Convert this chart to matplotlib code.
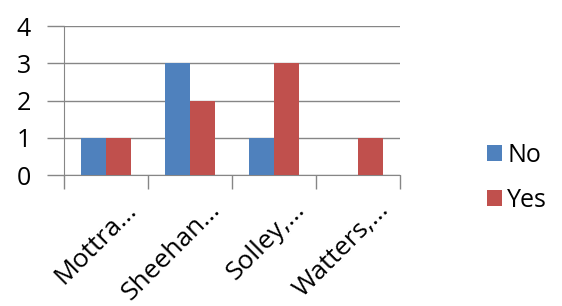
import numpy as np
import matplotlib.pyplot as plt
import matplotlib.transforms as mtransforms

categories = ['Mottra...', 'Sheehan...', 'Solley,...', 'Watters,...']
no_vals = [1, 3, 1, 0]
yes_vals = [1, 2, 3, 1]

plt.rcParams['font.family'] = ['Open Sans', 'DejaVu Sans']

fig = plt.figure(figsize=(5.62, 3.06), dpi=100)
ax = fig.add_axes([0.114, 0.428, 0.598, 0.487])

x = np.arange(len(categories))
w = 0.3
grey = '#868686'

ax.bar(x - w / 2, no_vals, w, color='#4F81BD', label='No', zorder=3)
ax.bar(x + w / 2, yes_vals, w, color='#C0504D', label='Yes', zorder=3)

ax.set_xlim(-0.5, 3.5)
ax.set_ylim(0, 4)
ax.set_yticks([0, 1, 2, 3, 4])
ax.yaxis.grid(True, color=grey, linewidth=1, zorder=0)

ax.set_xticks(x)
ax.set_xticklabels(categories, rotation=45, ha='right', va='top',
                   rotation_mode='anchor', fontsize=19)
ax.set_xticks(np.arange(-0.5, 4, 1), minor=True)
ax.tick_params(axis='x', which='major', length=0, pad=16)
ax.tick_params(axis='x', which='minor', length=10, color=grey, width=1)
ax.tick_params(axis='y', length=12, color=grey, width=1, labelsize=18, pad=12)

# shift the slanted labels a little to the right, like Excel does
shift = mtransforms.ScaledTranslation(18 / 100, 0, fig.dpi_scale_trans)
for lab in ax.get_xticklabels():
    lab.set_transform(lab.get_transform() + shift)

for s in ['top', 'right']:
    ax.spines[s].set_visible(False)
for s in ['left', 'bottom']:
    ax.spines[s].set_color(grey)

ax.legend(loc='center left', bbox_to_anchor=(0.867, 0.418), bbox_transform=fig.transFigure,
          frameon=False, fontsize=18, borderpad=0, borderaxespad=0,
          handlelength=0.6, handleheight=0.6, handletextpad=0.2, labelspacing=0.8)

fig.savefig('out.png', dpi=100)
